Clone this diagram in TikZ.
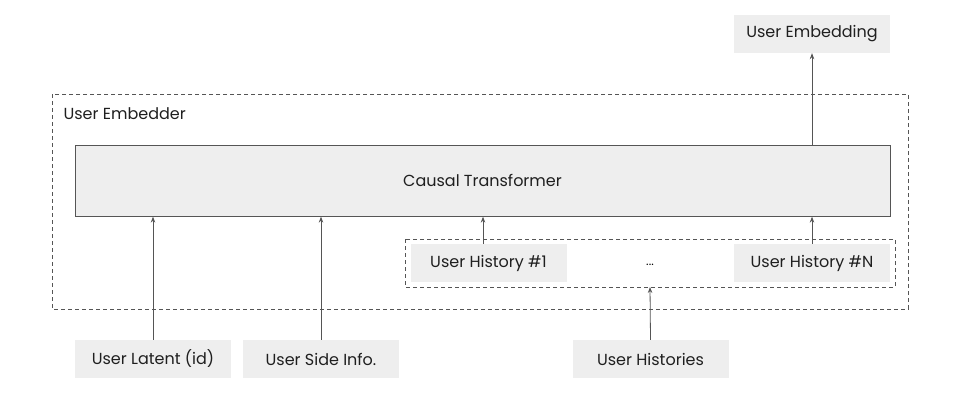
\documentclass[tikz,border=0pt]{standalone}
\usepackage{fontspec}
\setmainfont{Poppins}
\usetikzlibrary{arrows.meta}
\definecolor{boxfill}{HTML}{EEEEEE}
\definecolor{linec}{HTML}{555555}
\begin{document}
\begin{tikzpicture}[x=1pt,y=-1pt,
  txt/.style={font=\fontsize{16}{18}\selectfont,text=black!88},
  lbl/.style={txt,fill=boxfill,draw=none,minimum width=156pt,minimum height=38pt,inner sep=0pt},
  conn/.style={draw=linec,line width=0.8pt,-{Stealth[length=6pt,width=4.5pt]}},
  dashbox/.style={draw=linec,line width=0.7pt,dash pattern=on 4pt off 3pt}
]
\useasboundingbox (0,0) rectangle (960,394);
% outer dashed
\draw[dashbox] (52,94) rectangle (908,309);
\node[txt,anchor=west] (emblbl) at (60,114) {User Embedder};
% transformer
\node[txt,fill=boxfill,draw=linec,line width=0.8pt,minimum width=815pt,minimum height=71pt,inner sep=0pt] (tr) at (482.5,180.75) {Causal Transformer};
% inner dashed
\draw[dashbox] (405,239) rectangle (895,287);
\node[lbl] (h1) at (488.5,263) {User History \#1};
\node[lbl] (hn) at (812,263) {User History \#N};
\node[font=\fontsize{12}{14}\selectfont] (dots) at (650,265) {...};
\coordinate (inb) at (650,287);
% top
\node[lbl] (ue) at (812,34) {User Embedding};
% bottom
\node[lbl] (ul) at (153,359) {User Latent (id)};
\node[lbl] (us) at (321,359) {User Side Info.};
\node[lbl] (uh) at (650.5,359) {User Histories};
% connectors
\draw[conn] (tr.north -| ue.south) -- (ue.south);
\draw[conn] (ul.north) -- (ul.north |- tr.south);
\draw[conn] (us.north) -- (us.north |- tr.south);
\draw[conn] (h1.north -| 483,0) -- (483,0 |- tr.south);
\draw[conn] (hn.north) -- (hn.north |- tr.south);
\draw[conn] (uh.north) -- (inb);
\end{tikzpicture}
\end{document}
